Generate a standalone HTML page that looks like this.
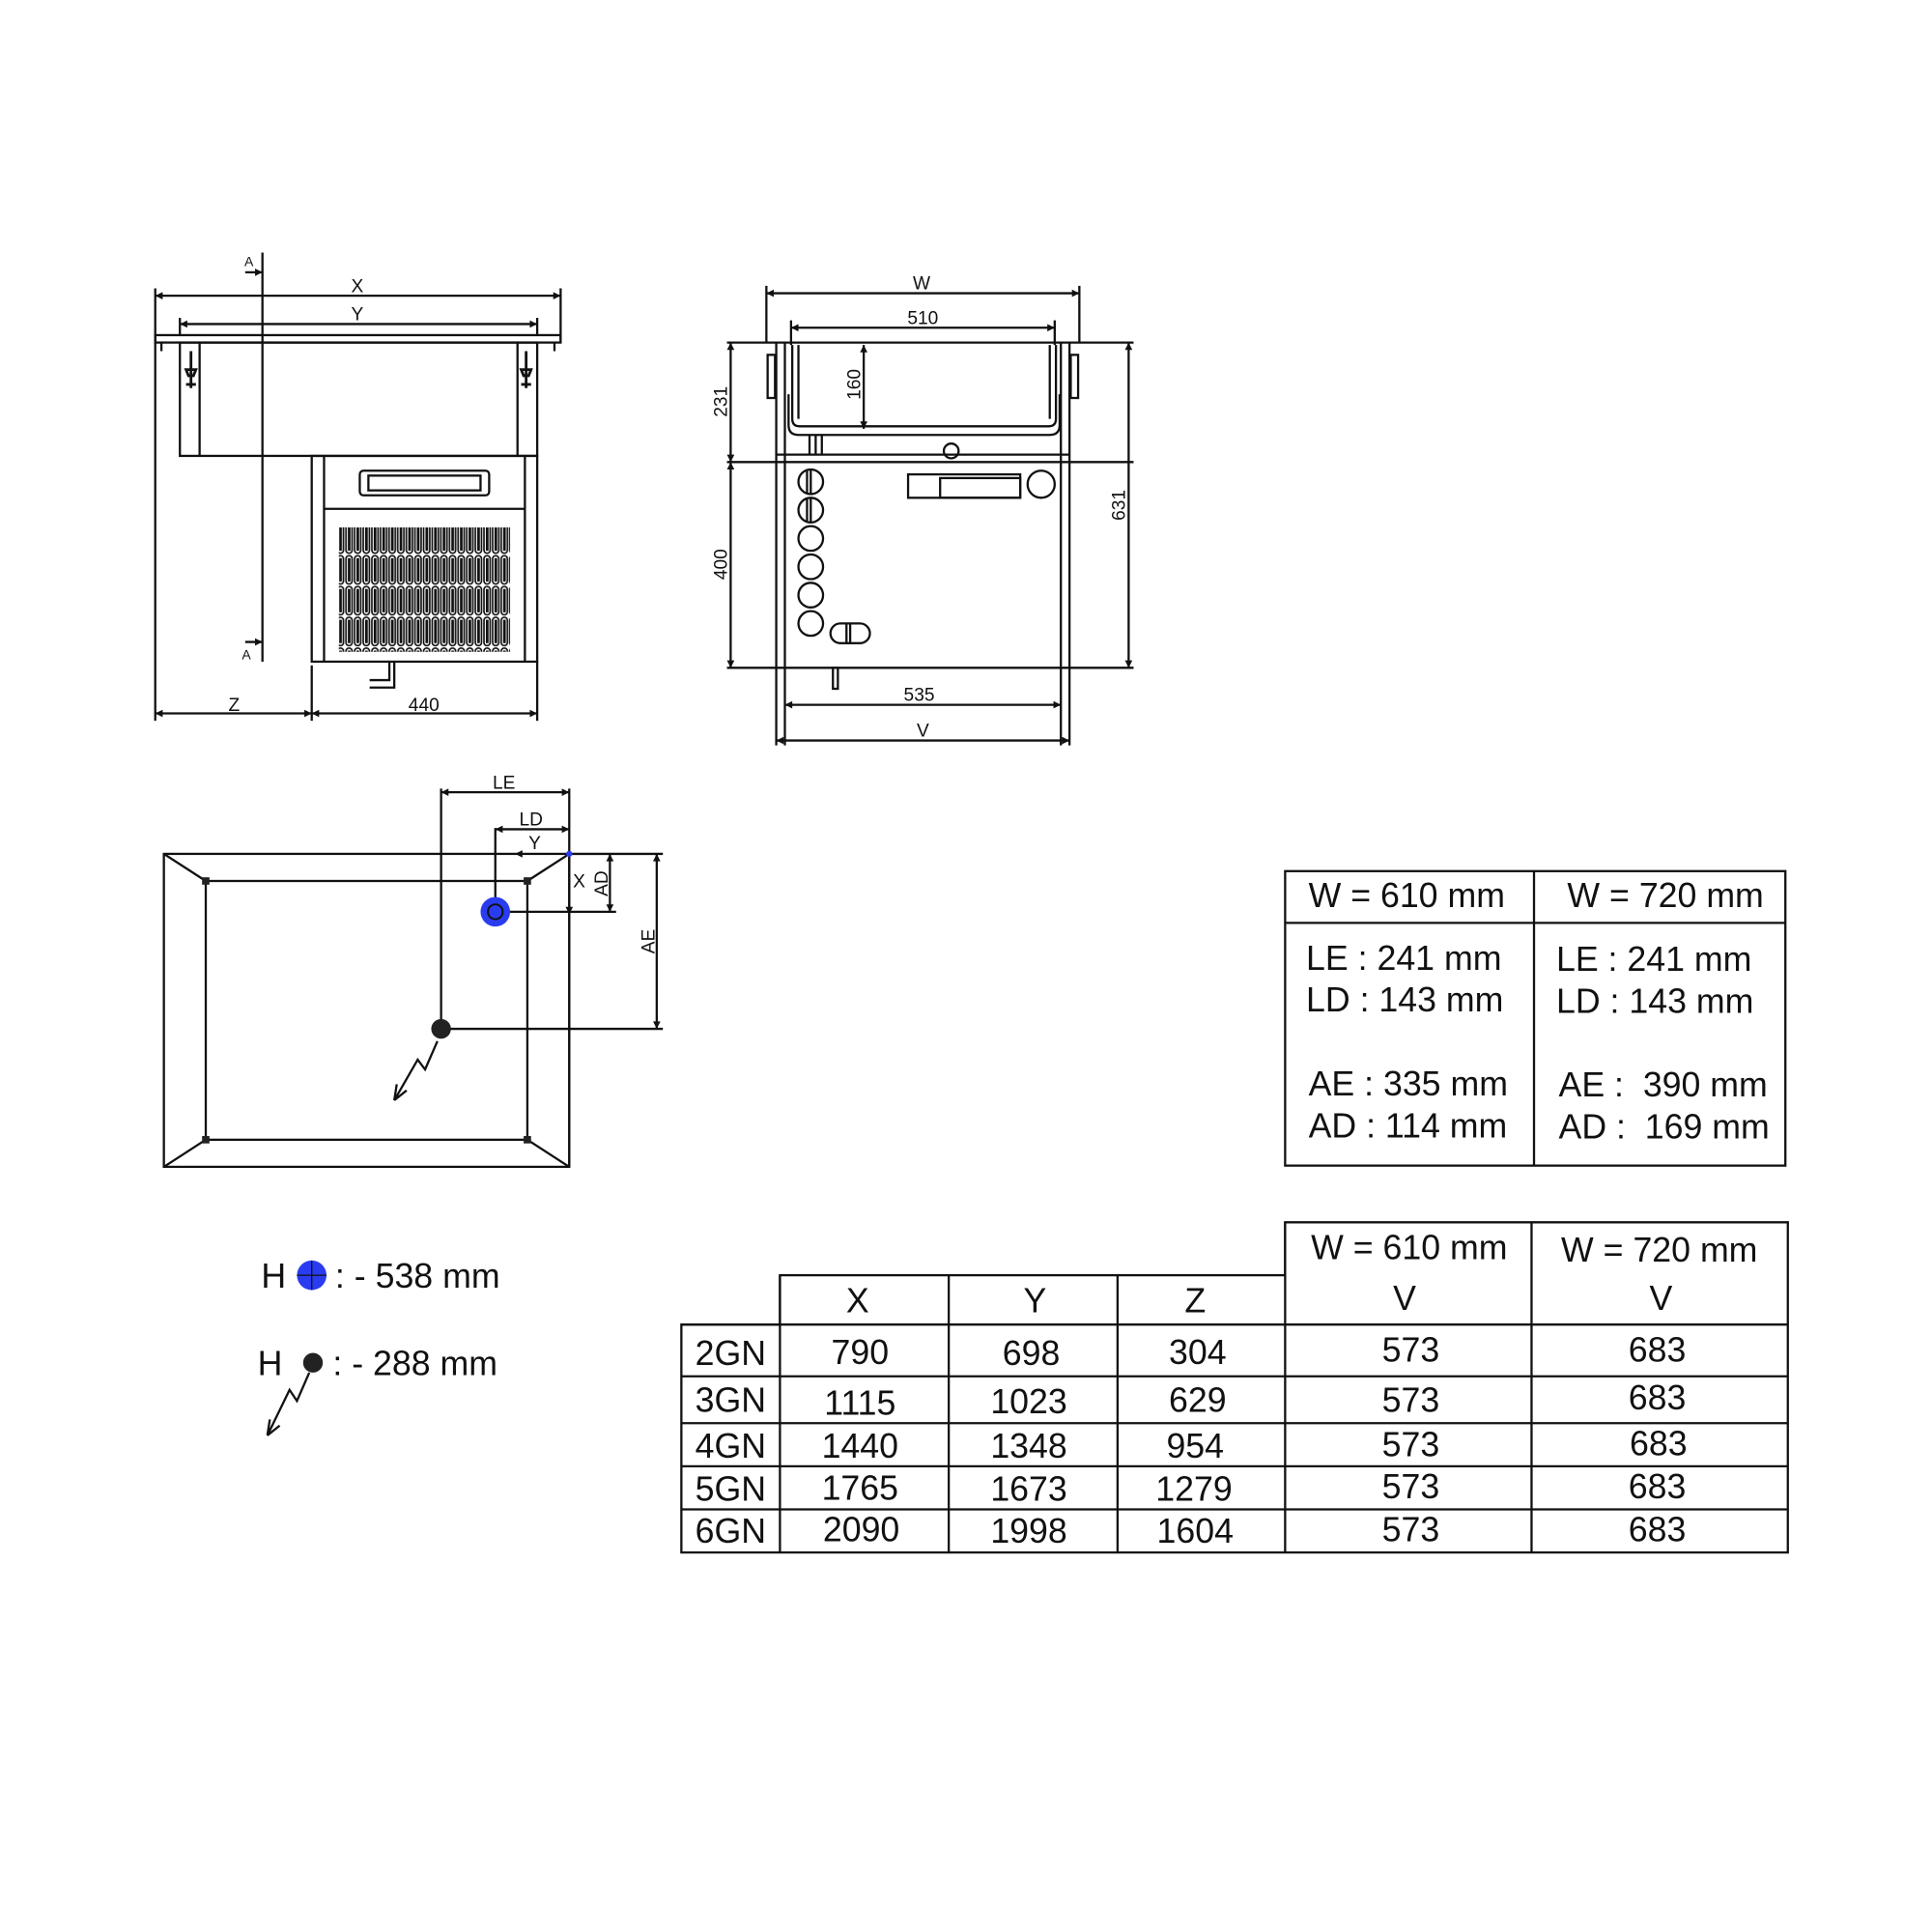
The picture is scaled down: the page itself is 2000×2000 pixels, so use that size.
<!DOCTYPE html>
<html><head><meta charset="utf-8"><style>
html,body{margin:0;padding:0;background:#fff;}
svg{display:block;}
text{font-family:"Liberation Sans",sans-serif;fill:#111;}
</style></head><body>
<svg width="2000" height="2000" viewBox="0 0 1568 1568" xmlns="http://www.w3.org/2000/svg">
<defs>
<marker id="a" viewBox="0 0 10 10" refX="10" refY="5" markerWidth="9" markerHeight="6" orient="auto-start-reverse" markerUnits="userSpaceOnUse"><path d="M0,0 L10,5 L0,10 z" fill="#111"/></marker>
<pattern id="gr" width="7" height="25" patternUnits="userSpaceOnUse"><rect x="0.8" y="1" width="5" height="23" rx="2.4" fill="none" stroke="#111" stroke-width="1.3"/><rect x="2.3" y="3" width="2.2" height="19" fill="#111"/></pattern>
</defs>
<rect width="1568" height="1568" fill="#fff"/>
<g stroke="#111" stroke-width="1.8" fill="none">
<!-- FRONT VIEW -->
<line x1="126" y1="240" x2="455" y2="240" marker-start="url(#a)" marker-end="url(#a)"/>
<line x1="146" y1="263" x2="436" y2="263" marker-start="url(#a)" marker-end="url(#a)"/>
<line x1="126" y1="234" x2="126" y2="585"/><line x1="455" y1="234" x2="455" y2="278"/>
<line x1="146" y1="258" x2="146" y2="272"/><line x1="436" y1="258" x2="436" y2="272"/>
<rect x="126" y="272" width="329" height="6"/>
<line x1="131" y1="278" x2="131" y2="285"/><line x1="450" y1="278" x2="450" y2="285"/>
<rect x="146" y="278" width="290" height="92"/>
<line x1="162" y1="278" x2="162" y2="370"/><line x1="420" y1="278" x2="420" y2="370"/>
<path d="M155,285 v30 M151,300 h8 l-2,5 h-4 z M151,312 h8" stroke-width="2.2"/>
<path d="M427,285 v30 M423,300 h8 l-2,5 h-4 z M423,312 h8" stroke-width="2.2"/>
<line x1="213" y1="205" x2="213" y2="537"/>
<line x1="199" y1="221" x2="213" y2="221" marker-end="url(#a)"/>
<line x1="199" y1="521" x2="213" y2="521" marker-end="url(#a)"/>
<rect x="253" y="370" width="183" height="167"/>
<line x1="263" y1="370" x2="263" y2="537"/><line x1="426" y1="370" x2="426" y2="537"/>
<line x1="263" y1="413" x2="426" y2="413"/>
<rect x="292" y="382" width="105" height="20" rx="3"/><rect x="299" y="386" width="91" height="12"/>
<rect x="275" y="428" width="139" height="101" fill="url(#gr)" stroke="none"/>
<path d="M300,558 h20 v-21 M300,552 h16 v-15"/>
<line x1="253" y1="540" x2="253" y2="585"/><line x1="436" y1="537" x2="436" y2="585"/>
<line x1="126" y1="579" x2="253" y2="579" marker-start="url(#a)" marker-end="url(#a)"/>
<line x1="253" y1="579" x2="436" y2="579" marker-start="url(#a)" marker-end="url(#a)"/>
<!-- SIDE VIEW -->
<line x1="622" y1="238" x2="876" y2="238" marker-start="url(#a)" marker-end="url(#a)"/>
<line x1="622" y1="232" x2="622" y2="278"/><line x1="876" y1="232" x2="876" y2="278"/>
<line x1="642" y1="266" x2="856" y2="266" marker-start="url(#a)" marker-end="url(#a)"/>
<line x1="642" y1="260" x2="642" y2="280"/><line x1="856" y1="260" x2="856" y2="280"/>
<line x1="590" y1="278" x2="920" y2="278"/>
<line x1="630" y1="278" x2="630" y2="605"/><line x1="868" y1="278" x2="868" y2="605"/>
<line x1="637" y1="278" x2="637" y2="375"/><line x1="861" y1="278" x2="861" y2="375"/>
<path d="M643,280 V340 q0,6 6,6 H851 q6,0 6,-6 V280"/>
<path d="M648,280 V340 M852,280 V340"/>
<path d="M640,320 V345 q0,8 8,8 H852 q8,0 8,-8 V320"/>
<rect x="623" y="288" width="6" height="35"/><rect x="869" y="288" width="6" height="35"/>
<path d="M657,353 v16 M662,353 v16 M667,353 v16"/>
<circle cx="772" cy="366" r="6"/>
<line x1="630" y1="369" x2="868" y2="369"/>
<line x1="590" y1="375" x2="920" y2="375"/>
<line x1="637" y1="375" x2="637" y2="605"/><line x1="861" y1="375" x2="861" y2="605"/>
<line x1="590" y1="542" x2="920" y2="542"/>
<line x1="593" y1="278" x2="593" y2="375" marker-start="url(#a)" marker-end="url(#a)"/>
<line x1="593" y1="375" x2="593" y2="542" marker-start="url(#a)" marker-end="url(#a)"/>
<line x1="916" y1="278" x2="916" y2="542" marker-start="url(#a)" marker-end="url(#a)"/>
<line x1="701" y1="280" x2="701" y2="348" marker-start="url(#a)" marker-end="url(#a)"/>
<line x1="637" y1="572" x2="861" y2="572" marker-start="url(#a)" marker-end="url(#a)"/>
<line x1="630" y1="601" x2="868" y2="601" marker-start="url(#a)" marker-end="url(#a)"/>
<circle cx="658" cy="391" r="10"/><circle cx="658" cy="414" r="10"/><circle cx="658" cy="437" r="10"/>
<circle cx="658" cy="460" r="10"/><circle cx="658" cy="483" r="10"/><circle cx="658" cy="506" r="10"/>
<path d="M655,382 v18 M658,381 v20 M655,405 v18 M658,404 v20"/>
<path d="M682,506 h16 a8,8 0 0 1 0,16 h-16 a8,8 0 0 1 0,-16 z M687,506 v16 M690,506 v16"/>
<rect x="737" y="385" width="91" height="19"/><rect x="763" y="388" width="65" height="16"/>
<circle cx="845" cy="393" r="11"/>
<rect x="676" y="542" width="4" height="17"/>
<!-- PLAN VIEW -->
<rect x="133" y="693" width="329" height="254"/>
<rect x="167" y="715" width="261" height="210"/>
<path d="M133,693 L167,715 M462,693 L428,715 M133,947 L167,925 M462,947 L428,925"/>
<line x1="358" y1="640" x2="358" y2="835"/>
<line x1="358" y1="643" x2="462" y2="643" marker-start="url(#a)" marker-end="url(#a)"/>
<line x1="462" y1="640" x2="462" y2="947"/>
<line x1="402" y1="672" x2="402" y2="740"/>
<line x1="402" y1="673" x2="462" y2="673" marker-start="url(#a)" marker-end="url(#a)"/>
<line x1="462" y1="693" x2="418" y2="693" marker-end="url(#a)" stroke-width="1"/>
<line x1="462" y1="693" x2="462" y2="742" marker-end="url(#a)" stroke-width="1"/>
<line x1="402" y1="740" x2="500" y2="740"/>
<line x1="462" y1="693" x2="538" y2="693"/>
<line x1="495" y1="693" x2="495" y2="740" marker-start="url(#a)" marker-end="url(#a)"/>
<line x1="533" y1="693" x2="533" y2="835" marker-start="url(#a)" marker-end="url(#a)"/>
<line x1="358" y1="835" x2="538" y2="835"/>
<path d="M355,845 L345,868 L339,860 L320,893 M320,893 L322,880 M320,893 L330,885"/>
<path d="M251,1114 L241,1137 L235,1128 L217,1165 M217,1165 L219,1152 M217,1165 L227,1157"/>
<!-- TABLE 1 -->
<rect x="1043" y="707" width="406" height="239"/>
<line x1="1245" y1="707" x2="1245" y2="946"/><line x1="1043" y1="749" x2="1449" y2="749"/>
<!-- TABLE 2 -->
<path d="M1043,992 H1451 V1260 H553 V1075 H633 V1035 H1043 Z"/>
<line x1="1043" y1="992" x2="1043" y2="1260"/><line x1="1243" y1="992" x2="1243" y2="1260"/>
<line x1="633" y1="1035" x2="633" y2="1260"/><line x1="770" y1="1035" x2="770" y2="1260"/><line x1="907" y1="1035" x2="907" y2="1260"/>
<line x1="553" y1="1075" x2="1451" y2="1075"/><line x1="553" y1="1117" x2="1451" y2="1117"/>
<line x1="553" y1="1155" x2="1451" y2="1155"/><line x1="553" y1="1190" x2="1451" y2="1190"/><line x1="553" y1="1225" x2="1451" y2="1225"/>
</g>
<g fill="#222"><rect x="164" y="712" width="6" height="6"/><rect x="425" y="712" width="6" height="6"/><rect x="164" y="922" width="6" height="6"/><rect x="425" y="922" width="6" height="6"/></g>
<circle cx="402" cy="740" r="12" fill="#2a3cf0"/><circle cx="402" cy="740" r="6" fill="none" stroke="#111" stroke-width="1.5"/>
<circle cx="462" cy="693" r="2.5" fill="#2a3cf0"/>
<circle cx="358" cy="835" r="8" fill="#222"/>
<circle cx="253" cy="1035" r="12" fill="#2a3cf0"/><line x1="253" y1="1023" x2="253" y2="1047" stroke="#111"/><line x1="241" y1="1035" x2="265" y2="1035" stroke="#111"/>
<circle cx="254" cy="1106" r="8" fill="#222"/>
<g font-size="15" text-anchor="middle">
<text x="290" y="237">X</text><text x="290" y="260">Y</text>
<text x="202" y="216" font-size="11">A</text><text x="200" y="535" font-size="11">A</text>
<text x="190" y="577">Z</text><text x="344" y="577">440</text>
<text x="748" y="235">W</text><text x="749" y="263">510</text>
<text x="746" y="569">535</text><text x="749" y="598">V</text>
<text transform="translate(590,326) rotate(-90)">231</text>
<text transform="translate(590,458) rotate(-90)">400</text>
<text transform="translate(913,410) rotate(-90)">631</text>
<text transform="translate(698,312) rotate(-90)">160</text>
<text x="409" y="640">LE</text><text x="431" y="670">LD</text><text x="434" y="689">Y</text>
<text x="470" y="720">X</text>
<text transform="translate(493,717) rotate(-90)">AD</text>
<text transform="translate(531,764) rotate(-90)">AE</text>
</g>
<g font-size="28">
<text x="212" y="1045">H</text><text x="272" y="1045">: - 538 mm</text>
<text x="209" y="1116">H</text><text x="270" y="1116">: - 288 mm</text>
<text x="1062" y="736">W = 610 mm</text><text x="1272" y="736">W = 720 mm</text>
<text x="1060" y="787">LE : 241 mm</text><text x="1060" y="821">LD : 143 mm</text>
<text x="1062" y="889">AE : 335 mm</text><text x="1062" y="923">AD : 114 mm</text>
<text x="1263" y="788">LE : 241 mm</text><text x="1263" y="822">LD : 143 mm</text>
<text x="1265" y="890">AE :&#160; 390 mm</text><text x="1265" y="924">AD :&#160; 169 mm</text>
<text x="1064" y="1022">W = 610 mm</text><text x="1267" y="1024">W = 720 mm</text>
</g>
<g font-size="28" text-anchor="middle">
<text x="696" y="1065">X</text><text x="840" y="1065">Y</text><text x="970" y="1065">Z</text><text x="1140" y="1063">V</text><text x="1348" y="1063">V</text>
<text x="593" y="1108">2GN</text><text x="698" y="1107">790</text><text x="837" y="1108">698</text><text x="972" y="1107">304</text><text x="1145" y="1105">573</text><text x="1345" y="1105">683</text>
<text x="593" y="1146">3GN</text><text x="698" y="1148">1115</text><text x="835" y="1147">1023</text><text x="972" y="1146">629</text><text x="1145" y="1146">573</text><text x="1345" y="1144">683</text>
<text x="593" y="1183">4GN</text><text x="698" y="1183">1440</text><text x="835" y="1183">1348</text><text x="970" y="1183">954</text><text x="1145" y="1182">573</text><text x="1346" y="1181">683</text>
<text x="593" y="1218">5GN</text><text x="698" y="1217">1765</text><text x="835" y="1218">1673</text><text x="969" y="1218">1279</text><text x="1145" y="1216">573</text><text x="1345" y="1216">683</text>
<text x="593" y="1252">6GN</text><text x="699" y="1251">2090</text><text x="835" y="1252">1998</text><text x="970" y="1252">1604</text><text x="1145" y="1251">573</text><text x="1345" y="1251">683</text>
</g>
</svg>
</body></html>
